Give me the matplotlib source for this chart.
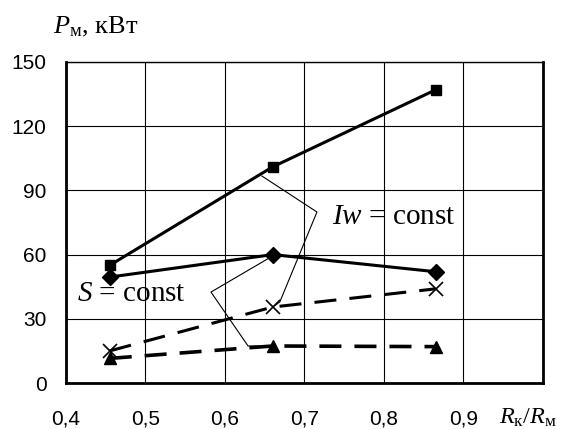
import matplotlib
matplotlib.use('Agg')
import matplotlib.pyplot as plt

# Data
ratio = [0.455, 0.66, 0.865]
p_square = [55, 101, 137]
p_diamond = [49.5, 60, 52]
p_cross = [15, 35.5, 44]
p_triangle = [11.5, 17.3, 17]

x_ticks = [0.4, 0.5, 0.6, 0.7, 0.8, 0.9, 1.0]
x_tick_labels = ['0,4', '0,5', '0,6', '0,7', '0,8', '0,9', '']
y_ticks = [0, 30, 60, 90, 120, 150]

plt.rcParams['mathtext.fontset'] = 'custom'
plt.rcParams['mathtext.rm'] = 'Liberation Serif'
plt.rcParams['mathtext.it'] = 'Liberation Serif:italic'

SANS = 'Liberation Sans'
SERIF = 'Liberation Serif'

fig = plt.figure(figsize=(5.65, 4.29), dpi=100)
ax = fig.add_axes([0.1168, 0.1072, 0.8442, 0.7483])

ax.set_xlim(0.4, 1.0)
ax.set_ylim(0, 150)
ax.set_xticks(x_ticks)
ax.set_xticklabels(x_tick_labels, fontsize=15, fontfamily=SANS)
ax.set_yticks(y_ticks)
ax.set_yticklabels([str(v) for v in y_ticks], fontsize=15, fontfamily=SANS)
ax.tick_params(length=0)
ax.tick_params(axis='y', pad=14)
ax.tick_params(axis='x', pad=19)
ax.grid(True, color='black', linewidth=0.8)
ax.set_axisbelow(True)

for side in ('left', 'bottom', 'right'):
    ax.spines[side].set_linewidth(2)
ax.spines['top'].set_linewidth(1)

lw = 2.2
dash = (7.2, 4.3)
ax.plot(ratio, p_square, color='black', lw=lw, marker='s', ms=7, zorder=3)
ax.plot(ratio, p_diamond, color='black', lw=lw, marker='D', ms=8, zorder=3)
ax.plot(ratio, p_cross, color='black', lw=lw, dashes=dash, marker='x',
        ms=10, mew=1.2, zorder=3)
ax.plot(ratio, p_triangle, color='black', lw=2.6, dashes=(6.1, 3.6),
        marker='^', ms=8, zorder=3)

# leader lines for the labels
ax.plot([0.6465, 0.7157, 0.669, 0.662], [96.7, 79.9, 37.9, 36.0],
        color='black', lw=0.8, zorder=2)
ax.plot([0.656, 0.5824, 0.629, 0.655], [58.5, 42.5, 17.3, 17.3],
        color='black', lw=0.8, zorder=2)

ax.text(0.7346, 77.6, r'$Iw$ = const', fontsize=21, fontfamily=SERIF,
        ha='left', va='center', zorder=4)
ax.text(0.4138, 41.6, r'$S$ = const', fontsize=21, fontfamily=SERIF,
        ha='left', va='center', zorder=4)

fig.text(53 / 565, 1 - 33 / 429, r'$P_{\mathrm{м}}$, кВт', fontsize=19,
         fontfamily=SERIF, ha='left', va='baseline')
fig.text(499 / 565, 1 - 424 / 429, r'$R_{\mathrm{к}}/R_{\mathrm{м}}$',
         fontsize=17.5, fontfamily=SERIF, ha='left', va='baseline')

fig.savefig('out.png', dpi=100)
